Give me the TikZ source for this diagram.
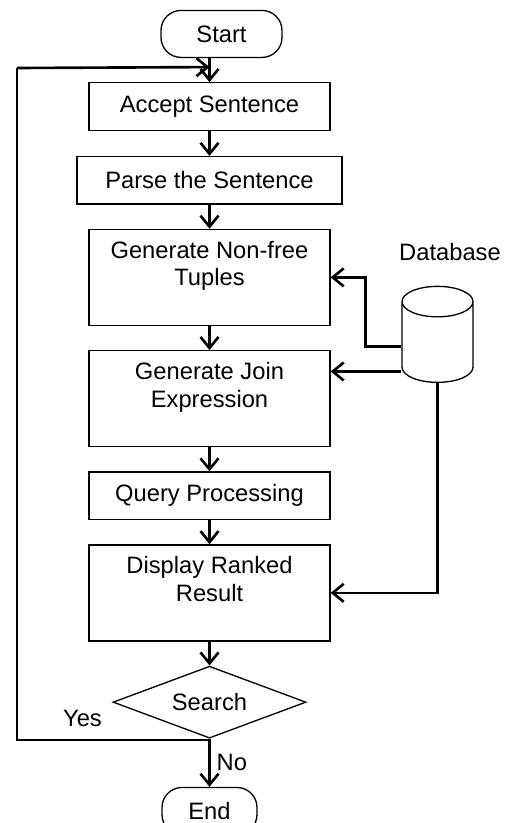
\documentclass[tikz,border=0pt]{standalone}
\usepackage{fontspec}
\setmainfont{Liberation Sans}
\usetikzlibrary{shapes.geometric, arrows.meta, positioning}

\begin{document}
\begin{tikzpicture}[
    >={Straight Barb[length=0.22cm, width=0.36cm]},
    font=\fontsize{13.5}{15.9}\selectfont,
    process/.style={rectangle, draw, line width=0.75pt, minimum width=4.82cm, minimum height=0.95cm, align=center, inner sep=0pt},
    tallbox/.style={process, minimum height=1.92cm},
    terminal/.style={rectangle, draw, line width=0.75pt, rounded corners=0.4cm, minimum width=2.42cm, minimum height=0.94cm},
    decision/.style={diamond, draw, line width=0.75pt, aspect=2.68, minimum width=3.86cm, minimum height=1.44cm, inner sep=0pt},
    store/.style={cylinder, shape border rotate=90, draw, line width=0.75pt, aspect=2.6, minimum width=1.42cm, minimum height=1.92cm},
    flow/.style={->, line width=1.5pt},
    back/.style={line width=0.75pt}
]
\useasboundingbox (0,0) rectangle (10.18,-16.46);

% Main column
\node[process] (accept) at (4.19,-2.13) {Accept Sentence};
\node[terminal] (start) [above=0.48cm of accept, xshift=0.24cm] {Start};
\node[process, minimum width=5.3cm] (parse) [below=0.5cm of accept] {Parse the Sentence};
\node[tallbox] (tuples) [below=0.48cm of parse] {Generate Non-free\\Tuples\\~};
\node[tallbox] (join) [below=0.48cm of tuples] {Generate Join\\Expression\\~};
\node[process] (query) [below=0.48cm of join] {Query Processing};
\node[tallbox] (display) [below=0.48cm of query] {Display Ranked\\Result\\~};
\node[decision] (search) [below=0.48cm of display] {Search};
\node[terminal, minimum width=1.9cm] (end) [below=0.96cm of search] {End};

\draw[flow] (start.south -| accept.north) -- (accept.north);
\draw[flow] (accept) -- (parse);
\draw[flow] (parse) -- (tuples);
\draw[flow] (tuples) -- (join);
\draw[flow] (join) -- (query);
\draw[flow] (query) -- (display);
\draw[flow] (display) -- (search);
\draw[flow] (search) -- node[right] {No} (end);

% Loop back to the start
\coordinate (loopin) at ([yshift=0.3cm]accept.north);
\coordinate (loopcorner) at (0.34,-14.8);
\coordinate (looptop) at (0.34,-1.36);
\draw[back] (search.south) |- (loopcorner) node[above=4pt, pos=0.83] {Yes} -- (looptop);
\draw[flow] (looptop) -- (loopin);

% Database
\node[store] (db) at (8.75,-6.93) {};
\node (dblabel) at (9.0,-5.04) {Database};

\draw[flow] (db.west) -- ++(-0.72,0) |- (tuples.east);
\draw[flow] ([yshift=-0.5cm]db.west) -- ([yshift=-0.5cm]db.west -| join.east);
\draw[flow] (db.south) |- (display.east);

\end{tikzpicture}
\end{document}
